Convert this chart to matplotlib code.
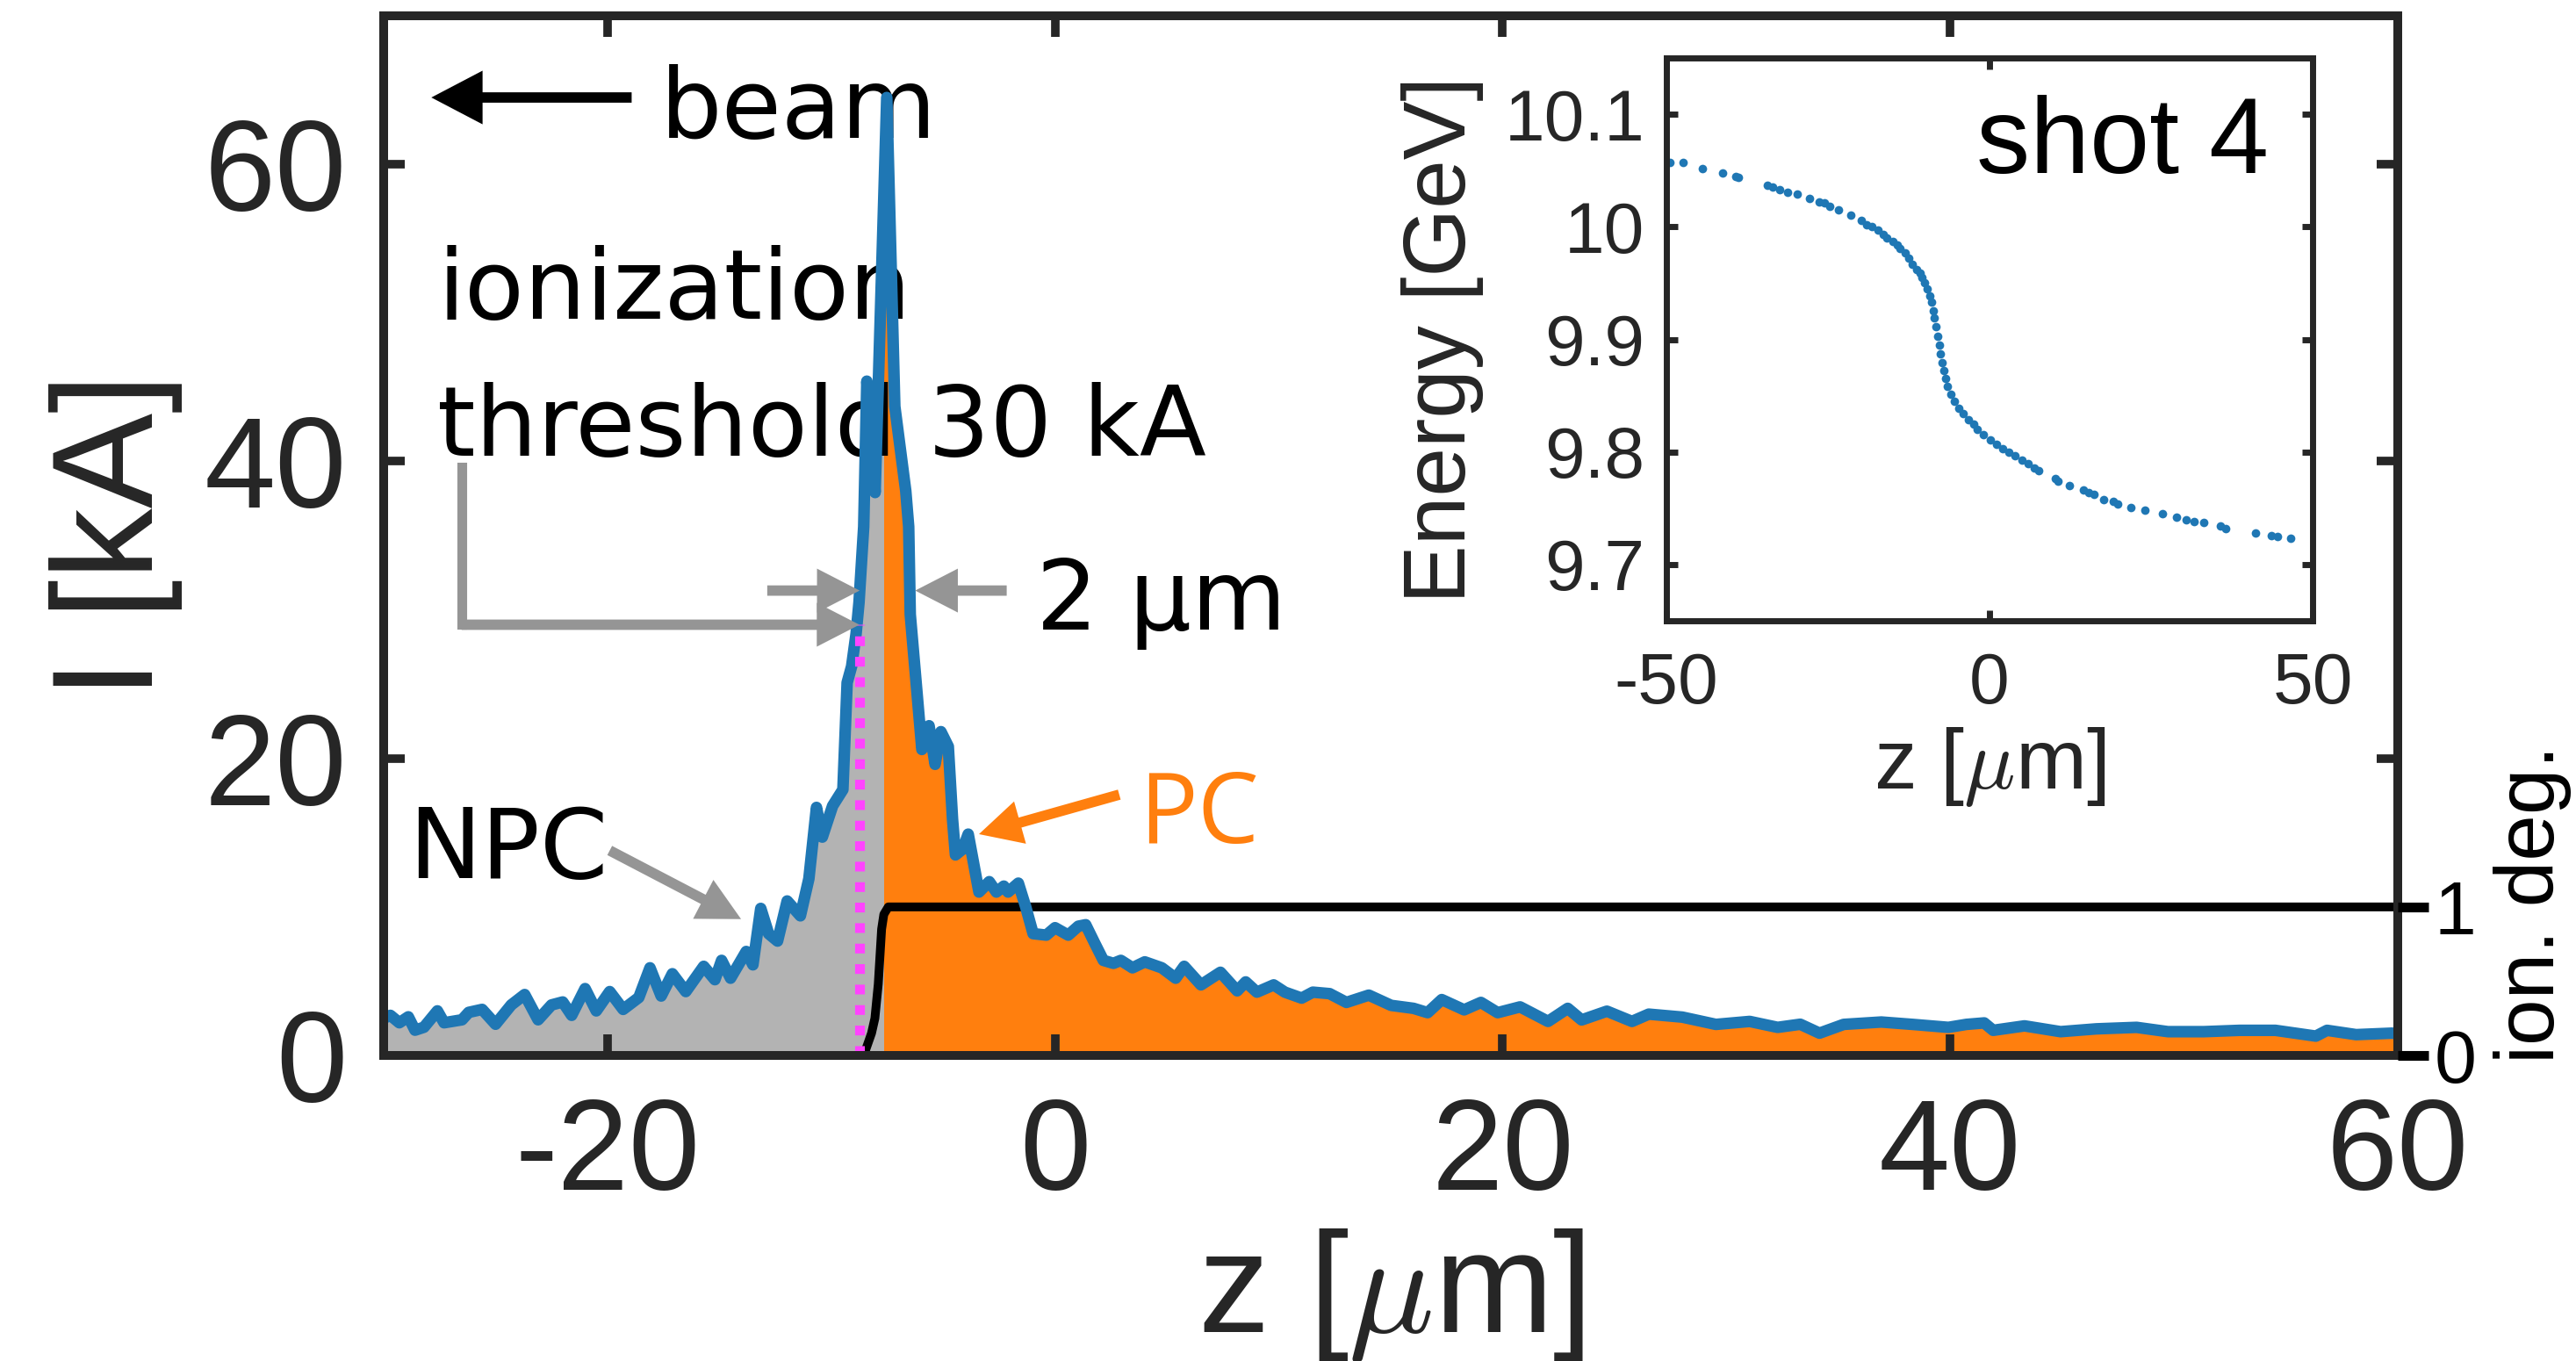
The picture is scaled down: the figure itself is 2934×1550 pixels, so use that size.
import matplotlib
matplotlib.use("Agg")
import matplotlib.pyplot as plt
from matplotlib.patches import Rectangle

# ---- current profile I(z) ----
z_prof = [-30.0, -29.7, -29.3, -28.9, -28.6, -28.2, -27.6, -27.3, -26.9, -26.5,
          -26.2, -25.6, -25.0, -24.3, -23.7, -23.1, -22.5, -22.0, -21.6, -21.0,
          -20.5, -19.9, -19.3, -18.6, -18.1, -17.6, -17.1, -16.5, -15.7, -15.2,
          -14.9, -14.5, -13.8, -13.5, -13.15, -12.8, -12.4, -11.97, -11.38, -11.0,
          -10.66, -10.40, -9.94, -9.48, -9.29, -9.09, -8.89, -8.76, -8.55, -8.41,
          -8.04, -7.52, -7.16, -6.67, -6.54, -6.47, -5.95, -5.63, -5.36, -5.10,
          -4.77, -4.58, -4.45, -4.12, -3.88, -3.40, -2.94, -2.62, -2.29, -2.10,
          -1.64, -1.31, -0.98, -0.39, 0.0, 0.59, 1.04, 1.37, 1.76, 2.16,
          2.61, 2.94, 3.46, 4.01, 4.77, 5.39, 5.77, 6.52, 7.39, 8.14,
          8.52, 9.02, 9.77, 10.27, 11.02, 11.52, 12.27, 13.02, 14.02, 15.02,
          16.02, 16.65, 17.28, 18.28, 19.03, 19.78, 20.78, 22.03, 22.91, 23.53,
          24.66, 25.78, 26.53, 28.03, 29.53, 31.04, 32.29, 33.3, 34.16, 35.24,
          36.92, 38.32, 39.92, 40.72, 41.52, 41.92, 43.32, 44.93, 46.53, 48.33,
          49.73, 51.33, 52.93, 54.53, 56.34, 56.84, 58.14, 59.74, 60.0]
i_prof = [2.5, 2.7, 2.2, 2.6, 1.7, 1.9, 3.0, 2.2, 2.3, 2.4,
          2.9, 3.1, 2.1, 3.4, 4.1, 2.4, 3.4, 3.6, 2.7, 4.5,
          3.0, 4.3, 3.1, 3.9, 5.9, 4.0, 5.5, 4.3, 6.0, 5.1,
          6.4, 5.2, 7.0, 6.1, 9.9, 8.2, 7.7, 10.4, 9.4, 11.9,
          16.7, 14.7, 16.8, 17.9, 25.1, 26.2, 28.4, 30.5, 35.6, 45.4,
          37.9, 64.5, 43.7, 38.0, 35.6, 29.7, 20.6, 22.2, 19.6, 21.8,
          20.8, 15.9, 13.5, 13.9, 14.9, 11.0, 11.7, 11.0, 11.4, 11.0,
          11.6, 10.0, 8.2, 8.1, 8.6, 8.1, 8.7, 8.8, 7.6, 6.4,
          6.2, 6.4, 5.9, 6.3, 5.9, 5.2, 6.0, 4.75, 5.6, 4.35,
          4.95, 4.26, 4.75, 4.26, 3.86, 4.26, 4.16, 3.57, 4.06, 3.37,
          3.17, 2.88, 3.76, 3.07, 3.57, 2.88, 3.27, 2.29, 3.17, 2.39,
          2.98, 2.29, 2.78, 2.58, 2.09, 2.29, 1.89, 2.1, 1.5, 2.09,
          2.25, 2.09, 1.89, 2.09, 2.19, 1.69, 1.99, 1.6, 1.79, 1.89,
          1.6, 1.6, 1.69, 1.69, 1.3, 1.69, 1.4, 1.5, 1.45]

# ionization degree (right axis)
z_ion = [-8.55, -8.2, -8.05, -7.9, -7.75, -7.65, -7.45, 60.0]
ion_deg = [0.0, 0.15, 0.25, 0.48, 0.85, 0.95, 1.0, 1.0]

z_cut = -7.62    # split between NPC (grey) and PC (orange)
z_thr = -8.72    # where the 30 kA threshold is crossed
i_thr = 29.0

# ---- inset: energy vs z ----
z_e = [-49.5, -47.4, -44.4, -41.3, -39.3, -38.8, -34.4, -33.5, -32.5, -31.2,
       -29.7, -27.8, -26.3, -25.5, -24.7, -23.4, -21.4, -19.8, -19.0, -18.2,
       -17.2, -16.4, -15.9, -14.9, -14.3, -13.9, -13.1, -12.5, -11.9, -11.3,
       -10.8, -10.4, -10.0, -9.6, -9.3, -9.0, -8.7, -8.5, -8.3, -8.0,
       -7.8, -7.6, -7.4, -7.1, -6.8, -6.5, -6.0, -5.5, -4.8, -4.1,
       -3.3, -2.5, -1.9, -0.9, 0.1, 1.1, 2.1, 3.0, 4.0, 5.0,
       6.0, 6.9, 7.6, 10.2, 10.6, 12.3, 14.5, 15.3, 16.2, 17.7,
       19.2, 19.9, 21.9, 24.1, 26.8, 29.0, 30.4, 31.7, 33.1, 35.8,
       36.6, 41.2, 43.6, 44.6, 46.6]
energy = [10.057, 10.057, 10.052, 10.048, 10.045, 10.044, 10.037, 10.035, 10.033, 10.031,
          10.029, 10.025, 10.022, 10.021, 10.018, 10.015, 10.010, 10.006, 10.002, 10.000,
          9.997, 9.993, 9.990, 9.987, 9.984, 9.981, 9.977, 9.972, 9.967, 9.962,
          9.959, 9.955, 9.950, 9.945, 9.939, 9.933, 9.925, 9.919, 9.911, 9.903,
          9.895, 9.887, 9.879, 9.872, 9.865, 9.858, 9.851, 9.845, 9.839, 9.834,
          9.829, 9.825, 9.820, 9.815, 9.811, 9.807, 9.803, 9.800, 9.797, 9.793,
          9.790, 9.786, 9.783, 9.776, 9.774, 9.770, 9.766, 9.764, 9.762, 9.758,
          9.756, 9.754, 9.751, 9.748, 9.745, 9.742, 9.740, 9.738, 9.737, 9.734,
          9.732, 9.728, 9.726, 9.725, 9.723]

x_ticks = [-20, 0, 20, 40, 60]
x_ticklabels = ["-20", "0", "20", "40", "60"]
y_ticks = [0, 20, 40, 60]
y_ticklabels = ["0", "20", "40", "60"]
ion_ticks = [0, 1]
inset_xticks = [-50, 0, 50]
inset_xticklabels = ["-50", "0", "50"]
inset_yticks = [9.7, 9.8, 9.9, 10.0, 10.1]
inset_yticklabels = ["9.7", "9.8", "9.9", "10", "10.1"]

BLUE = "#1f77b4"
ORANGE = "#ff7f0e"
GREY = "#b3b3b3"
ARROW_GREY = "#959595"
AX_COL = "#262626"
ANN = "DejaVu Sans"

plt.rcParams["font.family"] = ["Liberation Sans", "DejaVu Sans"]
plt.rcParams["mathtext.fontset"] = "cm"

W, H = 2934, 1550
fig = plt.figure(figsize=(W / 100, H / 100), dpi=100)
ax = fig.add_axes([437 / W, 1 - 1202 / H, 2294 / W, 1184 / H])
ax.set_xlim(-30, 60)
ax.set_ylim(0, 70)

# filled areas, split at z_cut
npc = ax.fill_between(z_prof, 0, i_prof, color=GREY, lw=0, zorder=1)
npc.set_clip_path(Rectangle((-30, 0), z_cut + 30, 70, transform=ax.transData))
pc = ax.fill_between(z_prof, 0, i_prof, color=ORANGE, lw=0, zorder=1)
pc.set_clip_path(Rectangle((z_cut, 0), 60 - z_cut, 70, transform=ax.transData))

ax2 = ax.twinx()
ax2.set_ylim(0, 7)

# ionization degree drawn in ax2 units but inside ax so the blue line stays on top
ax.plot(z_ion, ion_deg, color="k", lw=7.2, transform=ax2.transData, zorder=3)
ax.plot(z_prof, i_prof, color=BLUE, lw=9.5, zorder=4)
ax.plot([z_thr, z_thr], [0, i_thr], color="#ff44ff", lw=8,
        ls=(0, (1, 1.1)), zorder=5)

for s in ax.spines.values():
    s.set_linewidth(7.2)
    s.set_color(AX_COL)
    s.set_zorder(6)
ax.set_xticks(x_ticks)
ax.set_xticklabels(x_ticklabels)
ax.set_yticks(y_ticks)
ax.set_yticklabels(y_ticklabels)
ax.tick_params(direction="in", length=17, width=7, color=AX_COL,
               labelcolor=AX_COL, labelsize=105, top=True, right=True)
ax.tick_params(axis="x", pad=34)
ax.tick_params(axis="y", pad=30)
ax.set_xlabel(r"z [$\mu$m]", fontsize=117, color=AX_COL)
ax.xaxis.set_label_coords(0.5, -0.165)
ax.set_ylabel("I [kA]", fontsize=117, color=AX_COL)
ax.yaxis.set_label_coords(-0.100, 0.5)

for s in ax2.spines.values():
    s.set_visible(False)
ax2.set_yticks(ion_ticks)
ax2.tick_params(direction="out", length=25, width=8, color="k",
                labelcolor="k", labelsize=62, pad=5)
fig.text(2840 / W, 1 - 1030 / H, "ion. deg.", rotation=90, ha="left",
         va="center", fontsize=68)

# ---- annotations ----
def arrow(tip, tail, color, hw, hl, w=8.5):
    ax.annotate("", xy=tip, xytext=tail, zorder=7,
                arrowprops=dict(facecolor=color, edgecolor="none", width=w,
                                headwidth=hw, headlength=hl, shrink=0))

arrow((-27.87, 64.5), (-18.92, 64.5), "k", 44, 42)
ax.text(-17.64, 61.8, "beam", fontsize=80, family=ANN, va="baseline")
ax.text(-27.6, 49.6, "ionization", fontsize=80, family=ANN, va="baseline")
ax.text(-27.6, 40.4, "threshold 30 kA", fontsize=80, family=ANN, va="baseline")

ax.plot([-26.52, -26.52], [39.6, i_thr], color=ARROW_GREY, lw=8,
        solid_capstyle="projecting", zorder=7)
arrow((z_thr - 0.02, i_thr), (-26.52, i_thr), ARROW_GREY, 36, 35)

arrow((-8.73, 31.3), (-12.86, 31.3), ARROW_GREY, 36, 35)
arrow((-6.25, 31.3), (-2.16, 31.3), ARROW_GREY, 36, 35)
ax.text(-0.85, 28.7, "2 μm", fontsize=80, family=ANN, va="baseline")

ax.text(-28.9, 11.94, "NPC", fontsize=80, family=ANN, va="baseline")
arrow((-14.03, 9.18), (-19.9, 13.8), ARROW_GREY, 36, 35)

ax.text(3.74, 14.3, "PC", fontsize=80, family="Open Sans", color=ORANGE,
        va="baseline")
arrow((-3.4, 14.9), (2.87, 17.56), ORANGE, 36, 35)

# ---- inset ----
axi = fig.add_axes([1898 / W, 1 - 707 / H, 736 / W, 641 / H])
axi.plot(z_e, energy, ls="none", marker="o", ms=7, mew=0, color=BLUE)
axi.set_xlim(-50, 50)
axi.set_ylim(9.65, 10.15)
axi.set_xticks(inset_xticks)
axi.set_xticklabels(inset_xticklabels)
axi.set_yticks(inset_yticks)
axi.set_yticklabels(inset_yticklabels)
for s in axi.spines.values():
    s.set_linewidth(5)
    s.set_color(AX_COL)
axi.tick_params(direction="in", length=9, width=5, color=AX_COL,
                labelcolor=AX_COL, labelsize=59, top=True, right=True)
axi.tick_params(axis="x", pad=25)
axi.tick_params(axis="y", pad=18)
axi.set_xlabel(r"z [$\mu$m]", fontsize=70, color=AX_COL)
axi.xaxis.set_label_coords(0.5, -0.185)
axi.set_ylabel("Energy [GeV]", fontsize=72, color=AX_COL)
axi.yaxis.set_label_coords(-0.282, 0.5)
axi.text(0.932, 0.796, "shot 4", transform=axi.transAxes, ha="right",
         va="baseline", fontsize=88)

fig.savefig("out.png", dpi=100)
